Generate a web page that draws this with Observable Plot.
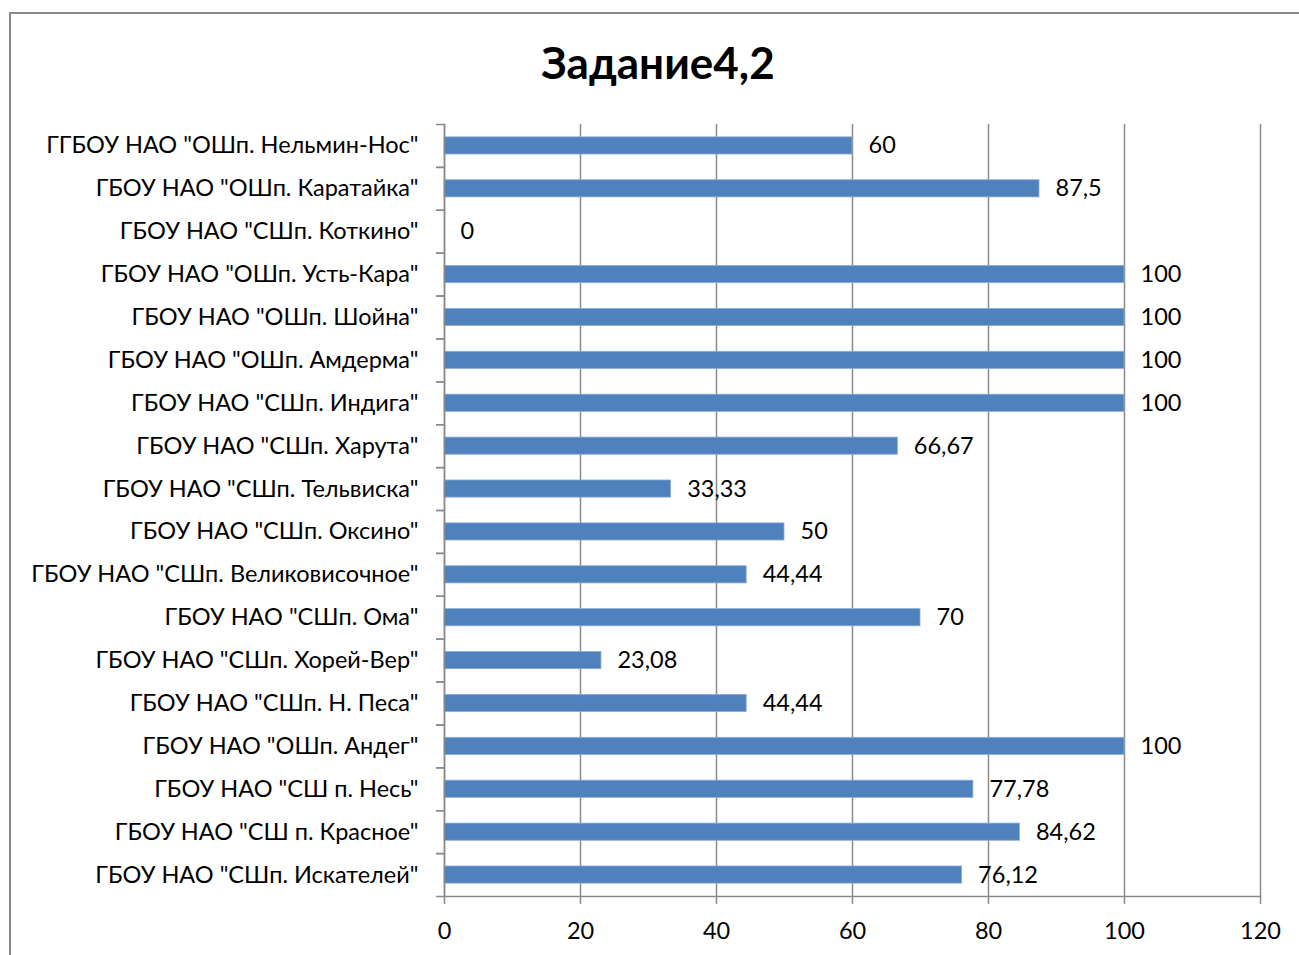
<!DOCTYPE html>
<html>
<head>
<meta charset="utf-8">
<script src="https://cdn.jsdelivr.net/npm/d3@7"></script>
<script src="https://cdn.jsdelivr.net/npm/@observablehq/plot@0.6"></script>
<style>
  html, body { margin: 0; padding: 0; background: #fff; }
  #wrap { position: relative; width: 1299px; height: 955px; overflow: hidden; font-family: Lato, "Open Sans", sans-serif; }
  #frame { position: absolute; left: 9px; top: 12px; width: 1400px; height: 1100px; border: 2px solid #8a8a8a; box-sizing: border-box; pointer-events: none; }
  #title { position: relative; height: 110px; box-sizing: border-box; padding-top: 36px; padding-left: 17px; text-align: center; font-weight: bold; font-size: 44px; line-height: 52px; color: #000; }
  #chart { position: relative; }
</style>
</head>
<body>
<div id="wrap">
  <div id="frame"></div>
  <div id="title">Задание4,2</div>
  <div id="chart"></div>
</div>
<script>
const schools = [
  'ГГБОУ НАО "ОШп. Нельмин-Нос"',
  'ГБОУ НАО "ОШп. Каратайка"',
  'ГБОУ НАО "СШп. Коткино"',
  'ГБОУ НАО "ОШп. Усть-Кара"',
  'ГБОУ НАО "ОШп. Шойна"',
  'ГБОУ НАО "ОШп. Амдерма"',
  'ГБОУ НАО "СШп. Индига"',
  'ГБОУ НАО "СШп. Харута"',
  'ГБОУ НАО "СШп. Тельвиска"',
  'ГБОУ НАО "СШп. Оксино"',
  'ГБОУ НАО "СШп. Великовисочное"',
  'ГБОУ НАО "СШп. Ома"',
  'ГБОУ НАО "СШп. Хорей-Вер"',
  'ГБОУ НАО "СШп. Н. Песа"',
  'ГБОУ НАО "ОШп. Андег"',
  'ГБОУ НАО "СШ п. Несь"',
  'ГБОУ НАО "СШ п. Красное"',
  'ГБОУ НАО "СШп. Искателей"'
];
const values = [60, 87.5, 0, 100, 100, 100, 100, 66.67, 33.33, 50, 44.44, 70, 23.08, 44.44, 100, 77.78, 84.62, 76.12];
const xTicks = [0, 20, 40, 60, 80, 100, 120];

const data = schools.map((s, i) => ({school: s, value: values[i]}));
const fmt = v => String(v).replace(".", ",");

const width = 1299, height = 845;
const marginTop = 14, marginBottom = 59, marginLeft = 444, marginRight = 39;
const step = (height - marginTop - marginBottom) / schools.length;

const plot = Plot.plot({
  width, height, marginTop, marginBottom, marginLeft, marginRight,
  style: {fontFamily: "Lato, 'Open Sans', sans-serif", fontSize: "23.5px", color: "#000", background: "transparent"},
  x: {domain: [0, 120], ticks: xTicks, label: null},
  y: {domain: schools, paddingInner: 0.6, paddingOuter: 0.3, round: false, label: null},
  marks: [
    Plot.gridX(xTicks, {stroke: "#8a8a8a", strokeOpacity: 1, strokeWidth: 1.5}),
    Plot.barX(data, {x: "value", y: "school", fill: "#4F81BD", stroke: "#8eacd4", strokeWidth: 0.8}),
    Plot.text(data, {x: "value", y: "school", text: d => fmt(d.value), textAnchor: "start", dx: 16, fontSize: 23.5, fill: "#000"}),
    Plot.frame({anchor: "left", stroke: "#8a8a8a", strokeWidth: 1.5}),
    Plot.frame({anchor: "bottom", stroke: "#8a8a8a", strokeWidth: 1.5}),
    Plot.axisY({tickSize: 8, text: null, dy: -step / 2, stroke: "#8a8a8a", strokeWidth: 1.5}),
    Plot.axisY({tickSize: 8, text: null, dy: step / 2, stroke: "#8a8a8a", strokeWidth: 1.5}),
    Plot.axisY({tickSize: 0, tickPadding: 26, fontSize: 23.5, fill: "#000"}),
    Plot.axisX(xTicks, {tickSize: 8, tickPadding: 18, fontSize: 23.5, stroke: "#8a8a8a", strokeWidth: 1.5, fill: "#000", tickFormat: d => String(d)})
  ]
});
document.getElementById("chart").appendChild(plot);
</script>
</body>
</html>
